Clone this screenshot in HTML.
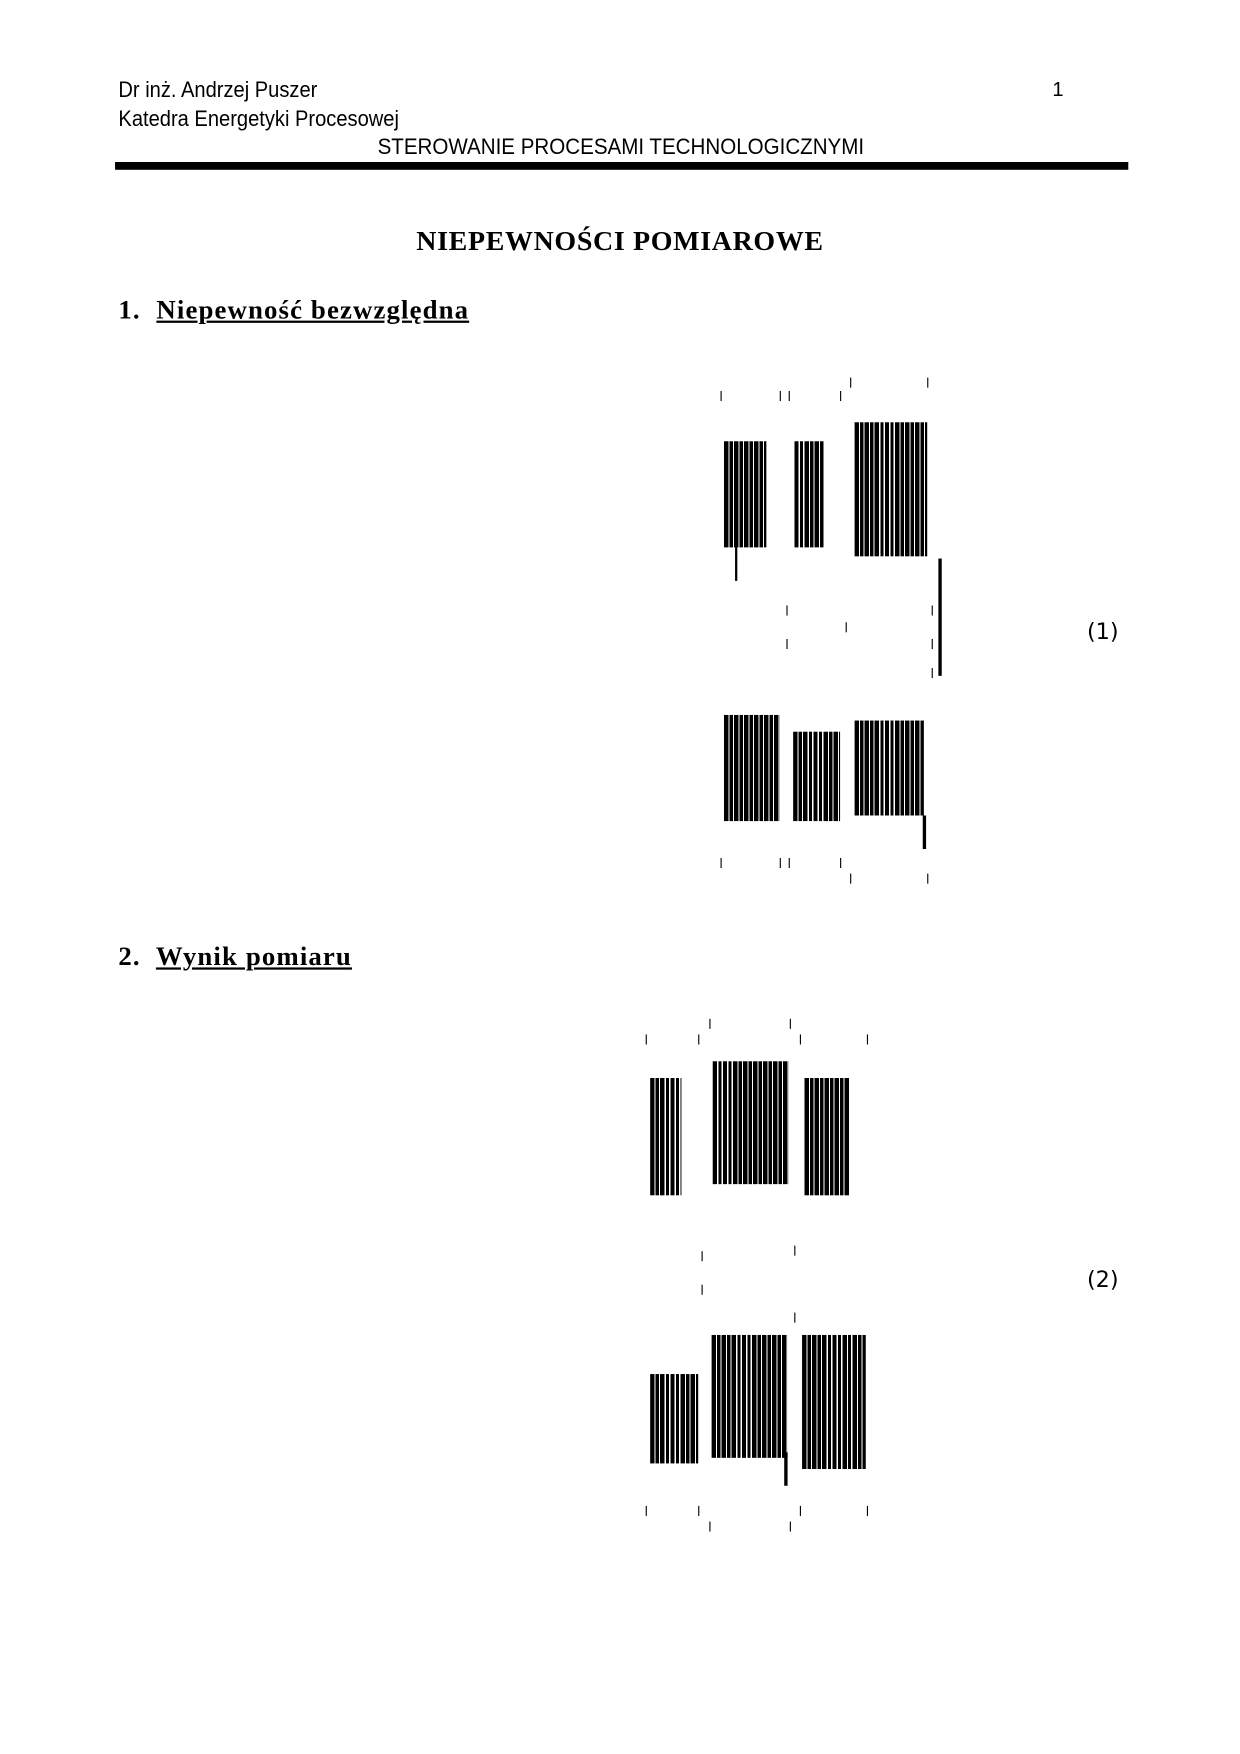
<!DOCTYPE html>
<html><head><meta charset="utf-8"><style>
body{margin:0;background:#fff;width:1240px;height:1754px;overflow:hidden}
#p{position:absolute;left:0;top:0;width:1110px;height:1570px;transform:scale(1.11712);transform-origin:0 0}
.t{position:absolute;white-space:nowrap;color:#000}
.h{font-family:"Liberation Sans",sans-serif;font-size:20px;transform:scaleX(.9);transform-origin:0 0}
.s{font-family:"Liberation Serif",serif;font-weight:bold;font-size:24px;letter-spacing:1px}
.b{position:absolute;background:repeating-linear-gradient(90deg,#000 0 4px,#fff 4px 5px,#000 5px 8px,#fff 8px 9px)}
.k{position:absolute;background:#000;width:1px;height:9px}
</style></head><body><div id="p">
<div class="t h" style="left:106px;top:70px">Dr inż. Andrzej Puszer</div>
<div class="t h" style="left:106px;top:96px">Katedra Energetyki Procesowej</div>
<div class="t h" style="left:338px;top:121px;transform:scaleX(.92)">STEROWANIE PROCESAMI TECHNOLOGICZNYMI</div>
<div class="t" style="left:942px;top:70px;font-family:'Liberation Sans',sans-serif;font-size:18px">1</div>
<div style="position:absolute;left:103px;top:145px;width:907px;height:7px;background:#000"></div>
<div class="t s" style="left:0;width:1110px;text-align:center;top:203px;font-size:25px;letter-spacing:0.6px">NIEPEWNOŚCI POMIAROWE</div>
<div class="t s" style="left:106px;top:265px">1.&nbsp; <u>Niepewność bezwzględna</u></div>
<div class="t s" style="left:106px;top:844px">2.&nbsp; <u>Wynik pomiaru</u></div>
<div class="t" style="left:973px;top:553px;font-family:'DejaVu Sans',sans-serif;font-size:20px">(1)</div>
<div class="t" style="left:973px;top:1133px;font-family:'DejaVu Sans',sans-serif;font-size:20px">(2)</div>

<div class="b" style="left:648px;top:395px;width:38px;height:95px"></div>
<div class="b" style="left:711px;top:395px;width:27px;height:95px"></div>
<div class="b" style="left:765px;top:378px;width:65px;height:120px"></div>
<div class="b" style="left:648px;top:640px;width:50px;height:95px"></div>
<div class="b" style="left:710px;top:655px;width:42px;height:80px"></div>
<div class="b" style="left:765px;top:645px;width:62px;height:85px"></div>
<div style="position:absolute;left:840px;top:500px;width:3px;height:105px;background:#000"></div>
<div style="position:absolute;left:658px;top:490px;width:2px;height:30px;background:#000"></div>
<div style="position:absolute;left:826px;top:730px;width:3px;height:30px;background:#000"></div>

<div class="b" style="left:582px;top:965px;width:28px;height:105px"></div>
<div class="b" style="left:638px;top:950px;width:68px;height:110px"></div>
<div class="b" style="left:720px;top:965px;width:40px;height:105px"></div>
<div class="b" style="left:582px;top:1230px;width:43px;height:80px"></div>
<div class="b" style="left:637px;top:1195px;width:68px;height:110px"></div>
<div class="b" style="left:718px;top:1195px;width:57px;height:120px"></div>
<div style="position:absolute;left:702px;top:1300px;width:3px;height:30px;background:#000"></div>

<div class="k" style="left:645px;top:350px"></div><div class="k" style="left:698px;top:350px"></div><div class="k" style="left:706px;top:350px"></div><div class="k" style="left:752px;top:350px"></div><div class="k" style="left:761px;top:338px"></div><div class="k" style="left:830px;top:338px"></div>
<div class="k" style="left:704px;top:542px"></div><div class="k" style="left:704px;top:572px"></div><div class="k" style="left:757px;top:557px"></div><div class="k" style="left:834px;top:542px"></div><div class="k" style="left:834px;top:572px"></div><div class="k" style="left:834px;top:598px"></div>
<div class="k" style="left:645px;top:768px"></div><div class="k" style="left:698px;top:768px"></div><div class="k" style="left:706px;top:768px"></div><div class="k" style="left:752px;top:768px"></div><div class="k" style="left:761px;top:782px"></div><div class="k" style="left:830px;top:782px"></div>
<div class="k" style="left:578px;top:926px"></div><div class="k" style="left:625px;top:926px"></div><div class="k" style="left:635px;top:912px"></div><div class="k" style="left:707px;top:912px"></div><div class="k" style="left:716px;top:926px"></div><div class="k" style="left:776px;top:926px"></div>
<div class="k" style="left:628px;top:1120px"></div><div class="k" style="left:628px;top:1150px"></div><div class="k" style="left:711px;top:1115px"></div><div class="k" style="left:711px;top:1175px"></div>
<div class="k" style="left:578px;top:1348px"></div><div class="k" style="left:625px;top:1348px"></div><div class="k" style="left:635px;top:1362px"></div><div class="k" style="left:707px;top:1362px"></div><div class="k" style="left:716px;top:1348px"></div><div class="k" style="left:776px;top:1348px"></div>
</div></body></html>
